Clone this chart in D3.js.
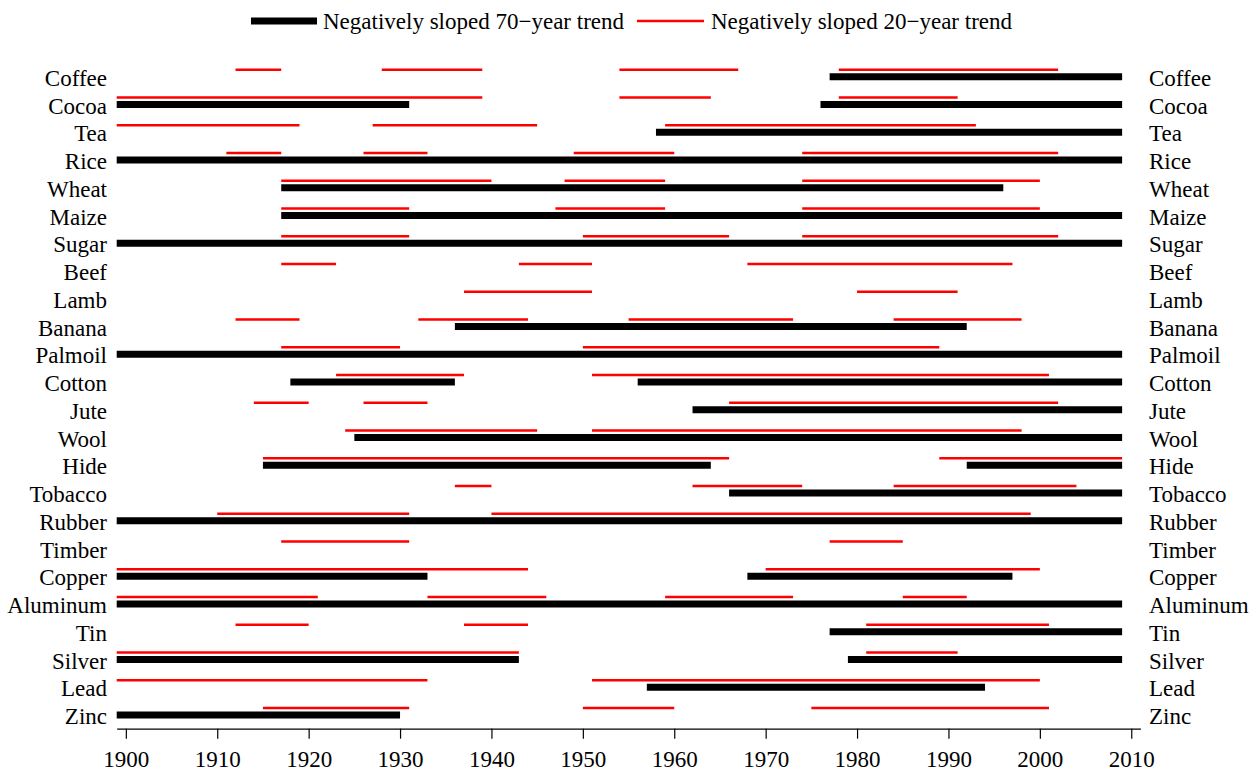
<!DOCTYPE html>
<html>
<head>
<meta charset="utf-8">
<script src="https://cdn.jsdelivr.net/npm/d3@7"></script>
<style>
  body { margin: 0; background: #fff; }
  svg text { font-family: "Liberation Serif", "Times New Roman", serif; font-size: 23px; fill: #000; }
</style>
</head>
<body>
<div id="chart"></div>
<script>
// commodities, top to bottom
var commodities = ["Coffee", "Cocoa", "Tea", "Rice", "Wheat", "Maize", "Sugar", "Beef", "Lamb",
  "Banana", "Palmoil", "Cotton", "Jute", "Wool", "Hide", "Tobacco", "Rubber", "Timber",
  "Copper", "Aluminum", "Tin", "Silver", "Lead", "Zinc"];

// negatively sloped 70-year trend periods [start, end]
var trend70 = [
  [[1977, 2009]],
  [[1899, 1931], [1976, 2009]],
  [[1958, 2009]],
  [[1899, 2009]],
  [[1917, 1996]],
  [[1917, 2009]],
  [[1899, 2009]],
  [],
  [],
  [[1936, 1992]],
  [[1899, 2009]],
  [[1918, 1936], [1956, 2009]],
  [[1962, 2009]],
  [[1925, 2009]],
  [[1915, 1964], [1992, 2009]],
  [[1966, 2009]],
  [[1899, 2009]],
  [],
  [[1899, 1933], [1968, 1997]],
  [[1899, 2009]],
  [[1977, 2009]],
  [[1899, 1943], [1979, 2009]],
  [[1957, 1994]],
  [[1899, 1930]]
];

// negatively sloped 20-year trend periods [start, end]
var trend20 = [
  [[1912, 1917], [1928, 1939], [1954, 1967], [1978, 2002]],
  [[1899, 1939], [1954, 1964], [1978, 1991]],
  [[1899, 1919], [1927, 1945], [1959, 1993]],
  [[1911, 1917], [1926, 1933], [1949, 1960], [1974, 2002]],
  [[1917, 1940], [1948, 1959], [1974, 2000]],
  [[1917, 1931], [1947, 1959], [1974, 2000]],
  [[1917, 1931], [1950, 1966], [1974, 2002]],
  [[1917, 1923], [1943, 1951], [1968, 1997]],
  [[1937, 1951], [1980, 1991]],
  [[1912, 1919], [1932, 1944], [1955, 1973], [1984, 1998]],
  [[1917, 1930], [1950, 1989]],
  [[1923, 1937], [1951, 2001]],
  [[1914, 1920], [1926, 1933], [1966, 2002]],
  [[1924, 1945], [1951, 1998]],
  [[1915, 1966], [1989, 2009]],
  [[1936, 1940], [1962, 1974], [1984, 2004]],
  [[1910, 1931], [1940, 1999]],
  [[1917, 1931], [1977, 1985]],
  [[1899, 1944], [1970, 2000]],
  [[1899, 1921], [1933, 1946], [1959, 1973], [1985, 1992]],
  [[1912, 1920], [1937, 1944], [1981, 2001]],
  [[1899, 1943], [1981, 1991]],
  [[1899, 1933], [1951, 2000]],
  [[1915, 1931], [1950, 1960], [1975, 2001]]
];

var yearTicks = [1900, 1910, 1920, 1930, 1940, 1950, 1960, 1970, 1980, 1990, 2000, 2010];
var legendLabels = ["Negatively sloped 70\u2212year trend", "Negatively sloped 20\u2212year trend"];

var width = 1258, height = 774;

var svg = d3.select("#chart")
    .append("svg")
    .attr("width", width)
    .attr("height", height);

var xScale = d3.scaleLinear().domain([1899, 2011]).range([116.7, 1140.4]);
var yScale = d3.scalePoint().domain(commodities).range([76.7, 715]);

// flatten segments
var seg70 = [], seg20 = [];
commodities.forEach(function (c, i) {
    trend70[i].forEach(function (p) { seg70.push({ name: c, start: p[0], end: p[1] }); });
    trend20[i].forEach(function (p) { seg20.push({ name: c, start: p[0], end: p[1] }); });
});

// x axis
var axisY = 728.7;
var xAxis = svg.append("g")
    .attr("transform", "translate(0," + axisY + ")")
    .call(d3.axisBottom(xScale).tickValues(yearTicks).tickFormat(d3.format("d")).tickSize(10).tickSizeOuter(0));
xAxis.select(".domain").attr("stroke", "#000").attr("stroke-width", 1.2);
xAxis.selectAll(".tick line").attr("stroke", "#000").attr("stroke-width", 1.2);
xAxis.selectAll(".tick text")
    .attr("font-family", null).attr("font-size", null)
    .attr("y", 38).attr("dy", 0).attr("fill", "#000");

// 70-year trends (thick black)
svg.append("g").selectAll("line")
    .data(seg70)
    .enter().append("line")
    .attr("x1", function (d) { return xScale(d.start); })
    .attr("x2", function (d) { return xScale(d.end); })
    .attr("y1", function (d) { return yScale(d.name); })
    .attr("y2", function (d) { return yScale(d.name); })
    .attr("stroke", "#000")
    .attr("stroke-width", 7);

// 20-year trends (thin red)
svg.append("g").selectAll("line")
    .data(seg20)
    .enter().append("line")
    .attr("x1", function (d) { return xScale(d.start); })
    .attr("x2", function (d) { return xScale(d.end); })
    .attr("y1", function (d) { return yScale(d.name) - 7; })
    .attr("y2", function (d) { return yScale(d.name) - 7; })
    .attr("stroke", "#ff0000")
    .attr("stroke-width", 2.5);

// labels both sides
svg.append("g").selectAll("text")
    .data(commodities)
    .enter().append("text")
    .attr("x", 107)
    .attr("y", function (d) { return yScale(d) + 1; })
    .attr("dy", "0.35em")
    .attr("text-anchor", "end")
    .text(function (d) { return d; });

svg.append("g").selectAll("text")
    .data(commodities)
    .enter().append("text")
    .attr("x", 1149)
    .attr("y", function (d) { return yScale(d) + 1; })
    .attr("dy", "0.35em")
    .attr("text-anchor", "start")
    .text(function (d) { return d; });

// legend
var legend = svg.append("g");
legend.append("line")
    .attr("x1", 251).attr("x2", 317).attr("y1", 21).attr("y2", 21)
    .attr("stroke", "#000").attr("stroke-width", 7);
legend.append("text").attr("x", 323).attr("y", 21).attr("dy", "0.35em").text(legendLabels[0]);
legend.append("line")
    .attr("x1", 637).attr("x2", 704).attr("y1", 21).attr("y2", 21)
    .attr("stroke", "#ff0000").attr("stroke-width", 2.5);
legend.append("text").attr("x", 711).attr("y", 21).attr("dy", "0.35em").text(legendLabels[1]);
</script>
</body>
</html>
